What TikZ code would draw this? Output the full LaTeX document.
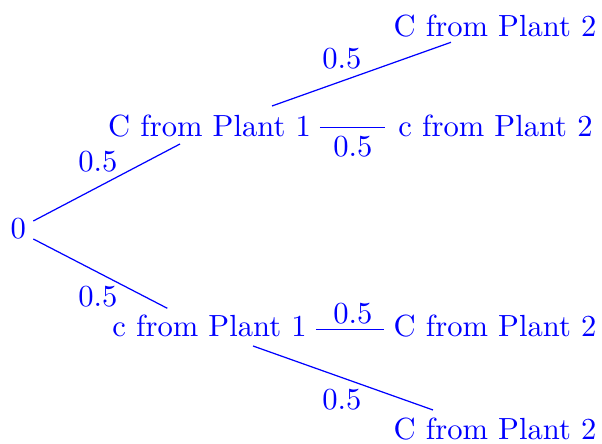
\documentclass[tikz,border=0pt]{standalone}
\begin{document}
\begin{tikzpicture}[x=0.327pt,y=-0.327pt,
  tnode/.style={text=blue, inner sep=2.5pt},
  lab/.style={text=blue, inner sep=0pt},
  conn/.style={draw=blue, line width=0.4pt}]
\useasboundingbox (0,0) rectangle (602,444);
% tree nodes
\node[tnode] (r)   at (18.3,228.3) {0};
\node[tnode] (C1)  at (209.5,125.9) {C from Plant 1};
\node[tnode] (c1)  at (209.5,325.9) {c from Plant 1};
\node[tnode] (C2a) at (495,25.9) {C from Plant 2};
\node[tnode] (c2b) at (495.5,125.9) {c from Plant 2};
\node[tnode] (C2c) at (495,325.9) {C from Plant 2};
\node[tnode] (C2d) at (495,429) {C from Plant 2};
% connectors
\draw[conn] ([shift={(15,-7.3)}]r.center) -- ([shift={(-29.5,18.1)}]C1.center);
\draw[conn] ([shift={(15,10.7)}]r.center) -- ([shift={(-42.2,-17.6)}]c1.center);
\draw[conn] ([shift={(62.5,-19.9)}]C1.center) -- ([shift={(-44,16.4)}]C2a.center);
\draw[conn] ([shift={(110.5,1.8)}]C1.center) -- ([shift={(-110.5,1.8)}]c2b.center);
\draw[conn] ([shift={(106.5,3.4)}]c1.center) -- ([shift={(-111,3.4)}]C2c.center);
\draw[conn] ([shift={(43.5,20.1)}]c1.center) -- ([shift={(-62,-19)}]C2d.center);
% connector labels
\node[lab] (l1) at (98,162) {0.5};
\node[lab] (l2) at (98,297) {0.5};
\node[lab] (l3) at (342,59) {0.5};
\node[lab] (l4) at (353,147) {0.5};
\node[lab] (l5) at (353,314) {0.5};
\node[lab] (l6) at (342,400) {0.5};
\end{tikzpicture}
\end{document}
